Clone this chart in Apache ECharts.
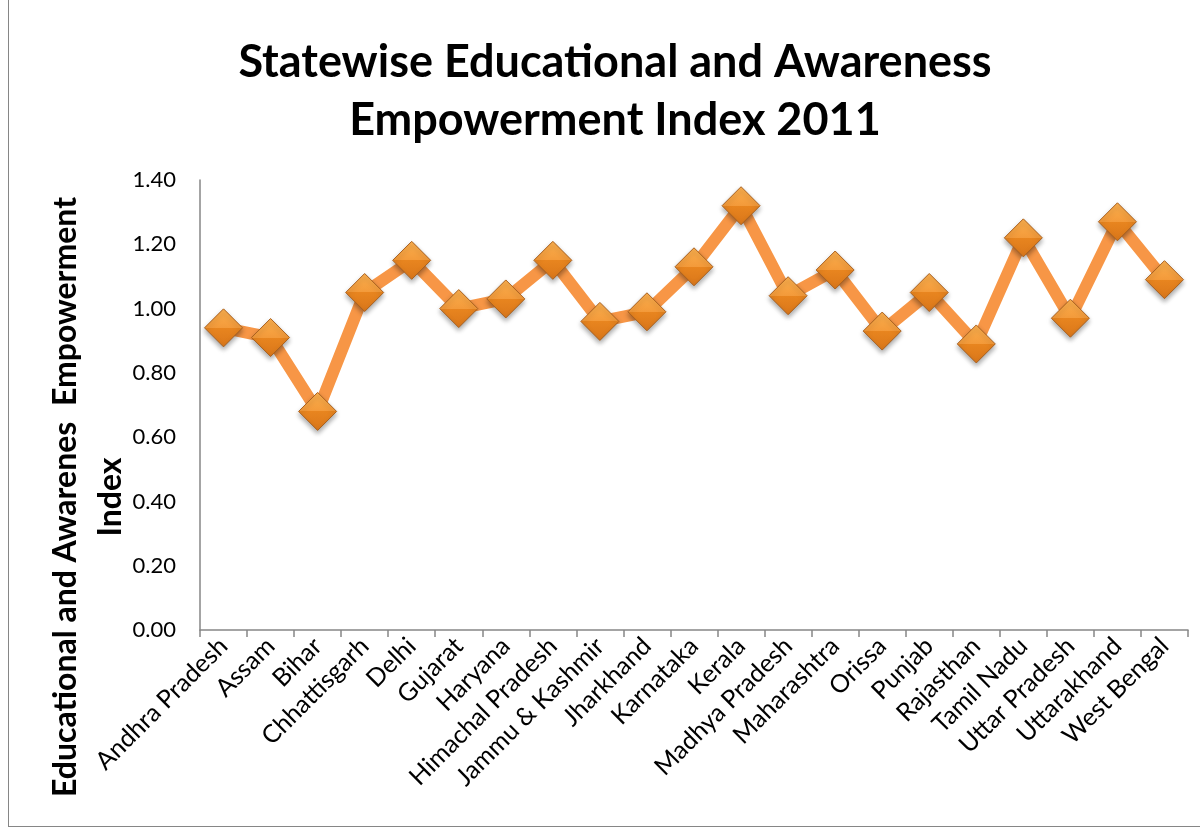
<!DOCTYPE html>
<html>
<head>
<meta charset="utf-8">
<title>Statewise Educational and Awareness Empowerment Index 2011</title>
<script src="https://cdn.jsdelivr.net/npm/echarts@6/dist/echarts.min.js"></script>
<style>
  html, body { margin: 0; padding: 0; background: #fff; }
  #chart { width: 1200px; height: 830px; }
  .frame {
    position: absolute; left: 8px; top: -2px; width: 1200px; height: 827px;
    border: 1px solid #868686; pointer-events: none;
  }
</style>
</head>
<body>
<div id="chart"></div>
<div class="frame"></div>
<script>
// states on the x axis
const states = ['Andhra Pradesh', 'Assam', 'Bihar', 'Chhattisgarh', 'Delhi', 'Gujarat', 'Haryana',
  'Himachal Pradesh', 'Jammu & Kashmir', 'Jharkhand', 'Karnataka', 'Kerala', 'Madhya Pradesh',
  'Maharashtra', 'Orissa', 'Punjab', 'Rajasthan', 'Tamil Nadu', 'Uttar Pradesh', 'Uttarakhand', 'West Bengal']
// index values
const indexValues = [0.94, 0.91, 0.68, 1.05, 1.15, 1.00, 1.03, 1.15, 0.96, 0.99, 1.13, 1.32, 1.04,
  1.12, 0.93, 1.05, 0.89, 1.22, 0.97, 1.27, 1.09]
const yTicks = [0, 0.2, 0.4, 0.6, 0.8, 1.0, 1.2, 1.4]

const font = 'Lato, "Open Sans", sans-serif'
const chart = echarts.init(document.getElementById('chart'))

chart.setOption({
  animation: false,
  title: {
    text: 'Statewise Educational and Awareness\nEmpowerment Index 2011',
    left: 610,
    textAlign: 'center',
    top: 28,
    textStyle: { fontFamily: font, fontSize: 45, fontWeight: 'bold', color: '#000', lineHeight: 58 }
  },
  graphic: [{
    type: 'text',
    x: 88,
    y: 497,
    rotation: Math.PI / 2,
    style: {
      text: 'Educational and Awarenes  Empowerment\nIndex',
      fontFamily: font,
      fontSize: 32,
      fontWeight: 'bold',
      fill: '#000',
      align: 'center',
      verticalAlign: 'middle',
      lineHeight: 45
    }
  }],
  grid: { left: 200, right: 12, top: 180, bottom: 200 },
  xAxis: {
    type: 'category',
    data: states,
    boundaryGap: true,
    axisLine: { lineStyle: { color: '#868686', width: 1.5 } },
    axisTick: { show: true, length: 7, lineStyle: { color: '#868686', width: 1.5 } },
    axisLabel: { rotate: 45, interval: 0, margin: 12, color: '#000', fontFamily: font, fontSize: 25 }
  },
  yAxis: {
    type: 'value',
    min: yTicks[0],
    max: yTicks[yTicks.length - 1],
    interval: 0.2,
    splitLine: { show: false },
    axisLine: { show: true, lineStyle: { color: '#868686', width: 1.5 } },
    axisTick: { show: false },
    axisLabel: {
      margin: 24, color: '#000', fontFamily: font, fontSize: 22,
      formatter: v => v.toFixed(2)
    }
  },
  series: [{
    type: 'line',
    data: indexValues,
    symbol: 'diamond',
    symbolSize: [38, 38],
    lineStyle: { color: '#F79646', width: 12, cap: 'round', join: 'round' },
    itemStyle: {
      color: new echarts.graphic.LinearGradient(0, 0, 0, 1, [
        { offset: 0, color: '#FBB04F' },
        { offset: 0.5, color: '#F39A3A' },
        { offset: 0.5, color: '#E8851F' },
        { offset: 1, color: '#D9761A' }
      ]),
      borderColor: '#A8601F',
      borderWidth: 1,
      shadowColor: 'rgba(0,0,0,0.35)',
      shadowBlur: 5,
      shadowOffsetY: 3
    }
  }]
})
</script>
</body>
</html>
